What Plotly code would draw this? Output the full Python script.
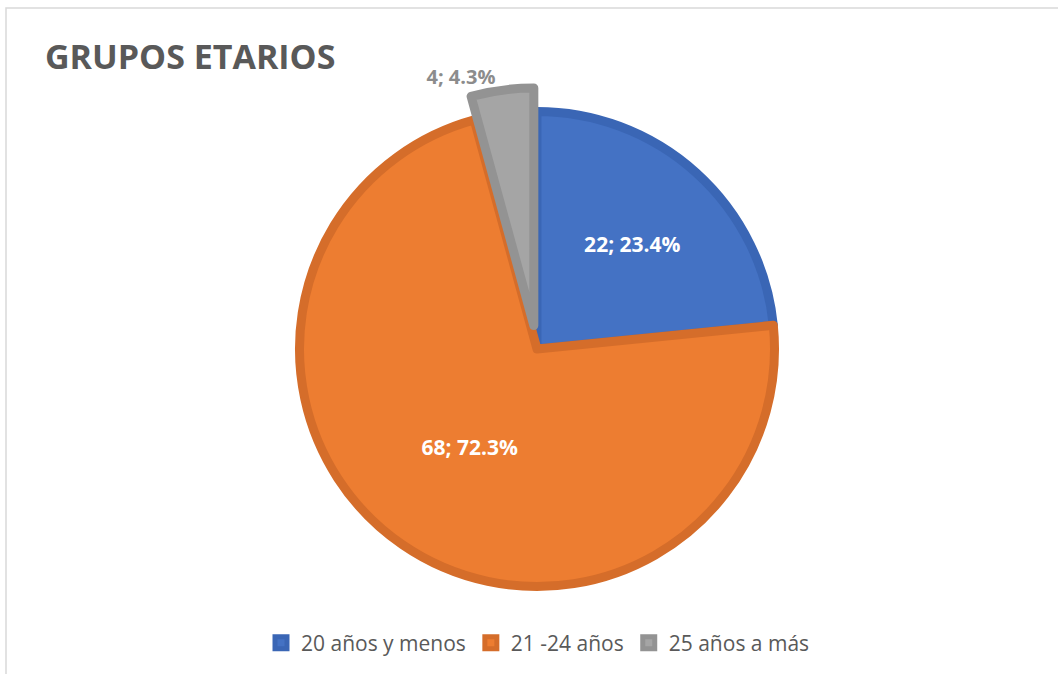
import plotly.graph_objects as go

labels = ["20 años y menos", "21 -24 años", "25 años a más"]
values = [22, 68, 4]
fill_colors = ["#4472C4", "#ED7D31", "#A5A5A5"]
line_colors = ["#3A66B5", "#D56D2A", "#939393"]
pulls = [0, 0, 0.1]

W, H = 1058, 674
cx, cy, r = 537, 349, 237.5
maxpull = max(pulls)
half = r * (1 + maxpull)

fig = go.Figure(go.Pie(
    labels=labels,
    values=values,
    sort=False,
    direction="clockwise",
    rotation=0,
    pull=pulls,
    marker=dict(colors=fill_colors, line=dict(color=line_colors, width=9)),
    texttemplate="<b>%{value}; %{percent:.1%}</b>",
    textposition=["inside", "inside", "outside"],
    insidetextorientation="horizontal",
    textfont=dict(family="Open Sans", size=21, color=["white", "white", "#8C8C8C"]),
    outsidetextfont=dict(family="Open Sans", size=20, color="#8C8C8C"),
    domain=dict(x=[(cx - half) / W, (cx + half) / W],
                y=[1 - (cy + half) / H, 1 - (cy - half) / H]),
    hoverinfo="label+value+percent",
))

fig.update_layout(
    width=W, height=H,
    margin=dict(l=0, r=0, t=0, b=0, autoexpand=False),
    paper_bgcolor="white",
    font=dict(family="Open Sans", color="#595959"),
    title=dict(text="<b>GRUPOS ETARIOS</b>", x=45 / W, xanchor="left",
               y=1 - 57 / H, yanchor="middle",
               font=dict(family="Open Sans", size=34, color="#595959")),
    legend=dict(orientation="h", x=0.5 + 9 / W, xanchor="center", y=1 - 643 / H, yanchor="middle",
                font=dict(family="Open Sans", size=21, color="#595959"),
                itemclick=False),
    shapes=[dict(type="rect", xref="paper", yref="paper",
                 x0=6 / W, x1=1.05, y0=-0.05, y1=1 - 8 / H,
                 line=dict(color="#D9D9D9", width=1.5), fillcolor="rgba(0,0,0,0)")],
)

fig.write_html("out.html", config={"displayModeBar": False},
               post_script="document.body.style.margin='0';")
